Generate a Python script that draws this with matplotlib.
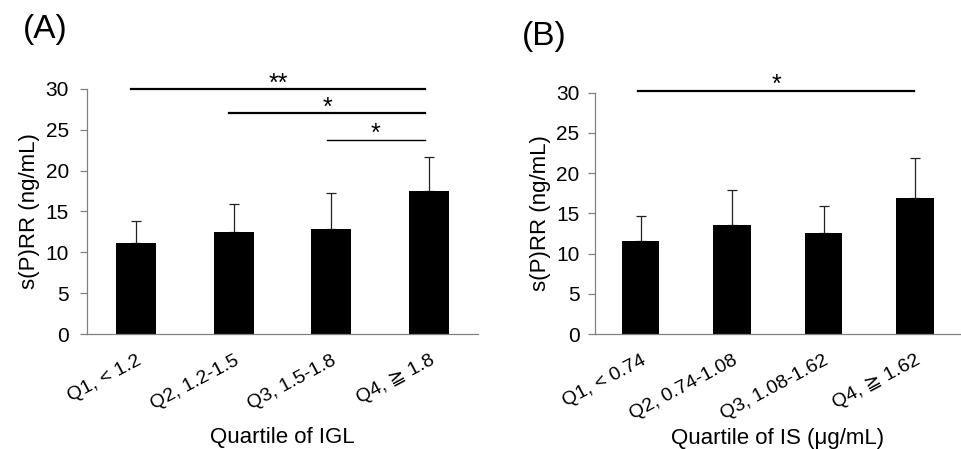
import matplotlib
matplotlib.use('Agg')
import matplotlib.pyplot as plt

plt.rcParams['font.family'] = ['Liberation Sans', 'DejaVu Sans']

# panel A: quartiles of IGL
cats_a = ['Q1, < 1.2', 'Q2, 1.2-1.5', 'Q3, 1.5-1.8', 'Q4, ≧ 1.8']
mean_a = [11.2, 12.45, 12.8, 17.45]
sd_a = [2.6, 3.45, 4.5, 4.2]
# panel B: quartiles of IS
cats_b = ['Q1, < 0.74', 'Q2, 0.74-1.08', 'Q3, 1.08-1.62', 'Q4, ≧ 1.62']
mean_b = [11.6, 13.5, 12.55, 16.9]
sd_b = [3.1, 4.4, 3.4, 5.0]

# significance brackets: (from, to, y, label, linewidth)
sig_a = [(-0.05, 2.96, 30.0, '**', 1.6), (0.95, 2.96, 27.05, '*', 1.6), (1.95, 2.96, 23.8, '*', 1.0)]
sig_b = [(-0.03, 2.99, 30.25, '*', 1.6)]

fig = plt.figure(figsize=(9.61, 4.49), dpi=100)
ax_a = fig.add_axes([0.0905, 0.256, 0.407, 0.546])
ax_b = fig.add_axes([0.619, 0.256, 0.381, 0.5375])


def draw(ax, cats, mean, sd, sig, xlabel, ypad, label_y):
    x = list(range(len(cats)))
    ax.bar(x, mean, width=0.41, color='black', zorder=2)
    ax.errorbar(x, mean, yerr=[[0] * len(sd), sd], fmt='none', ecolor='#222222',
                elinewidth=0.9, capsize=3.6, capthick=0.9, zorder=1)
    ax.set_xlim(-0.5, len(cats) - 0.5)
    ax.set_ylim(0, 30)
    ax.set_yticks(range(0, 31, 5))
    ax.set_xticks(x)
    ax.set_xticklabels(cats, rotation=28, ha='right', rotation_mode='anchor', fontsize=14)
    ax.tick_params(axis='x', length=0, pad=13)
    ax.tick_params(axis='y', labelsize=15, length=5, color='#808080', width=0.9, pad=ypad)
    for s in ['top', 'right']:
        ax.spines[s].set_visible(False)
    for s in ['left', 'bottom']:
        ax.spines[s].set_color('#808080')
        ax.spines[s].set_linewidth(0.9)
    ax.set_ylabel('s(P)RR (ng/mL)', fontsize=16, labelpad=4)
    ax.set_xlabel(xlabel, fontsize=16, va='top')
    ax.xaxis.set_label_coords(0.5, label_y)
    for x0, x1, y, lab, lw in sig:
        ax.plot([x0, x1], [y, y], color='black', lw=lw, clip_on=False)
        ax.text((x0 + x1) / 2, y - 0.8, lab, ha='center', va='bottom',
                fontsize=18, clip_on=False)


draw(ax_a, cats_a, mean_a, sd_a, sig_a, 'Quartile of IGL', 8, -0.38)
draw(ax_b, cats_b, mean_b, sd_b, sig_b, 'Quartile of IS (μg/mL)', 6, -0.39)

fig.text(0.024, 0.9, '(A)', fontsize=24, va='bottom')
fig.text(0.543, 0.885, '(B)', fontsize=24, va='bottom')

fig.savefig('out.png', dpi=100)
